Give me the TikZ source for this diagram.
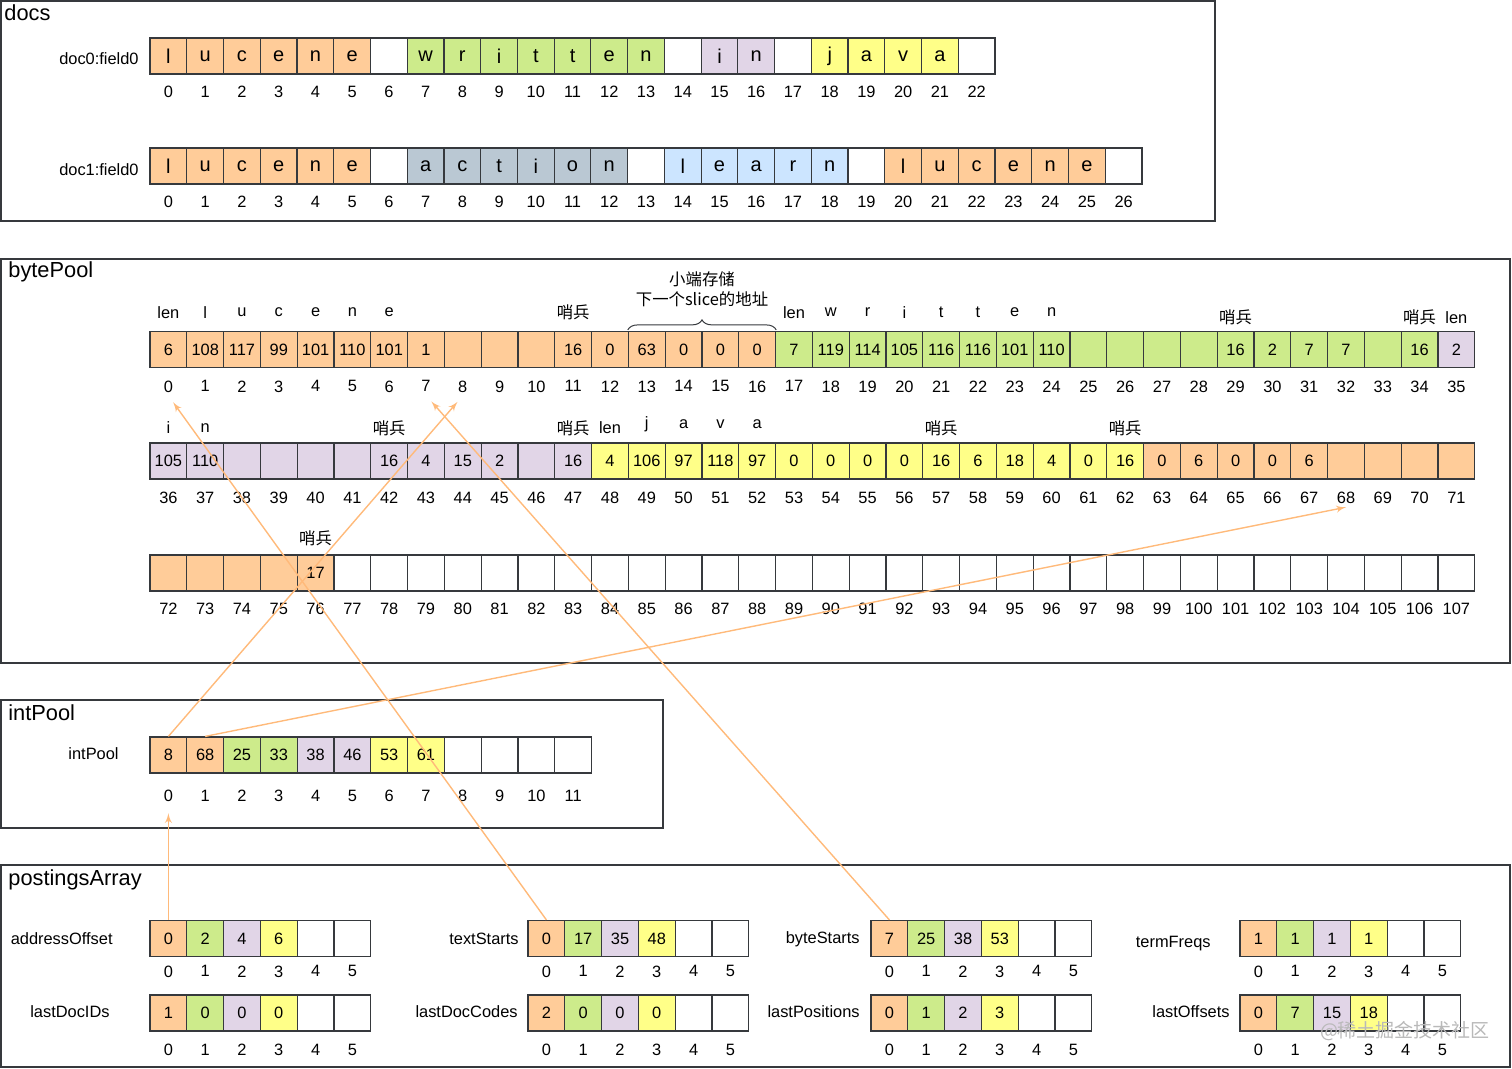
\documentclass[tikz,border=0pt]{standalone}
\usepackage{fontspec}
\setmainfont{Liberation Sans}
\newfontfamily\cjk{Noto Sans CJK SC}
\usepackage{tikz}
\usetikzlibrary{arrows, positioning, decorations.pathreplacing}

\definecolor{cOr}{HTML}{FFCC99}
\definecolor{cGr}{HTML}{CDEB8B}
\definecolor{cPu}{HTML}{E1D5E7}
\definecolor{cYe}{HTML}{FFFF88}
\definecolor{cSl}{HTML}{BAC8D3}
\definecolor{cBl}{HTML}{CCE5FF}
\definecolor{cWh}{HTML}{FFFFFF}
\definecolor{cLine}{HTML}{36393D}
\definecolor{cPtr}{HTML}{FFBA7A}

\newcommand{\cellfont}{\fontsize{8.2}{9.8}\selectfont}
\newcommand{\letterfont}{\fontsize{10}{12}\selectfont}
\newcommand{\titlefont}{\fontsize{10.9}{13}\selectfont}

\begin{document}
\begin{tikzpicture}[x=0.5pt, y=-0.5pt,
  cell/.style={draw=cLine, line width=0.6pt, minimum width=18.4pt, minimum height=18pt, inner sep=0pt, font=\cellfont},
  idx/.style={inner sep=1.5pt, font=\cellfont},
  lab/.style={inner sep=1pt, font=\cellfont},
  zh/.style={inner sep=1pt, font=\cellfont\cjk},
  title/.style={anchor=west, inner sep=0pt, font=\titlefont},
  frame/.style={draw=cLine, line width=0.6pt},
  ptr/.style={draw=cPtr, line width=0.7pt, -latex'},
]

\useasboundingbox (0,0) rectangle (1512,1069);

\draw[frame] (1,1) rectangle (1215,221);
\node[title] (docs) at (4,13) {docs};

\node[lab, anchor=east] (d0lab) at (141,59) {doc0:field0};
\foreach \val/\col [count=\i from 0] in {l/cOr,u/cOr,c/cOr,e/cOr,n/cOr,e/cOr,/cWh,w/cGr,r/cGr,i/cGr,t/cGr,t/cGr,e/cGr,n/cGr,/cWh,i/cPu,n/cPu,/cWh,j/cYe,a/cYe,v/cYe,a/cYe,/cWh} {
  \node[cell, fill=\col, font=\letterfont] (d0-\i) at ({168.4+36.74*\i},56) {\val};
  \node[idx, below=4.1pt of d0-\i] (d0i-\i) {\i};
}

\node[lab, anchor=east] (d1lab) at (141,170) {doc1:field0};
\foreach \val/\col [count=\i from 0] in {l/cOr,u/cOr,c/cOr,e/cOr,n/cOr,e/cOr,/cWh,a/cSl,c/cSl,t/cSl,i/cSl,o/cSl,n/cSl,/cWh,l/cBl,e/cBl,a/cBl,r/cBl,n/cBl,/cWh,l/cOr,u/cOr,c/cOr,e/cOr,n/cOr,e/cOr,/cWh} {
  \node[cell, fill=\col, font=\letterfont] (d1-\i) at ({168.4+36.74*\i},166) {\val};
  \node[idx, below=4.1pt of d1-\i] (d1i-\i) {\i};
}

\draw[frame] (1,259) rectangle (1510,663);
\node[title] (bytepool) at (8,272) {bytePool};

\foreach \val/\col [count=\i from 0] in {6/cOr,108/cOr,117/cOr,99/cOr,101/cOr,110/cOr,101/cOr,1/cOr,/cOr,/cOr,/cOr,16/cOr,0/cOr,63/cOr,0/cOr,0/cOr,0/cOr,7/cGr,119/cGr,114/cGr,105/cGr,116/cGr,116/cGr,101/cGr,110/cGr,/cGr,/cGr,/cGr,/cGr,16/cGr,2/cGr,7/cGr,7/cGr,/cGr,16/cGr,2/cPu} {
  \node[cell, fill=\col] (bp-\i) at ({168.4+36.8*\i},349.5) {\val};
  \node[idx, below=4.6pt of bp-\i] (bpi-\i) {\i};
}
\foreach \val/\col [count=\i from 36] in {105/cPu,110/cPu,/cPu,/cPu,/cPu,/cPu,16/cPu,4/cPu,15/cPu,2/cPu,/cPu,16/cPu,4/cYe,106/cYe,97/cYe,118/cYe,97/cYe,0/cYe,0/cYe,0/cYe,0/cYe,16/cYe,6/cYe,18/cYe,4/cYe,0/cYe,16/cYe,0/cOr,6/cOr,0/cOr,0/cOr,6/cOr,/cOr,/cOr,/cOr,/cOr} {
  \node[cell, fill=\col] (bp-\i) at ({168.4+36.8*(\i-36)},461) {\val};
  \node[idx, below=4.6pt of bp-\i] (bpi-\i) {\i};
}
\foreach \val/\col [count=\i from 72] in {/cOr,/cOr,/cOr,/cOr,17/cOr} {
  \node[cell, fill=\col] (bp-\i) at ({168.4+36.8*(\i-72)},573) {\val};
  \node[idx, below=4.1pt of bp-\i] (bpi-\i) {\i};
}
\foreach \i in {77,...,107} {
  \node[cell, fill=cWh] (bp-\i) at ({168.4+36.8*(\i-72)},573) {};
  \node[idx, below=4.1pt of bp-\i] (bpi-\i) {\i};
}

\foreach \i/\txt/\off in {0/len/37,1/l/37,2/u/37,3/c/37,4/e/37,5/n/37,6/e/37,17/len/37,18/w/37,19/r/37,20/i/37,21/t/37,22/t/37,23/e/37,24/n/37,35/len/32,36/i/33,37/n/33,48/len/33,49/j/37,50/a/37,51/v/37,52/a/37}
  \path (bp-\i) ++(0,-\off) node[lab] (top-\i) {\txt};
\foreach \i/\off in {11/37,29/32,34/32,42/33,47/33,57/33,62/33,76/35}
  \path (bp-\i) ++(0,-\off) node[zh] (snt-\i) {哨兵};

\draw[decorate, decoration={brace, amplitude=5pt, raise=0.5pt}, draw=cLine, line width=0.5pt] (bp-13.north west) -- (bp-16.north east);
\node[zh, align=center] (note) at (702,289) {小端存储\\下一个slice的地址};

\draw[frame] (1,700) rectangle (663,828);
\node[title] (intpool) at (8,713) {intPool};
\node[lab, anchor=east] (iplab) at (121,754) {intPool};
\foreach \val/\col [count=\i from 0] in {8/cOr,68/cOr,25/cGr,33/cGr,38/cPu,46/cPu,53/cYe,61/cYe,/cWh,/cWh,/cWh,/cWh} {
  \node[cell, fill=\col] (ip-\i) at ({168.4+36.8*\i},755) {\val};
  \node[idx, below=6.6pt of ip-\i] (ipi-\i) {\i};
}

\draw[frame] (1,865) rectangle (1510,1067);
\node[title] (postings) at (8,880) {postingsArray};
\foreach \nm/\lbl/\x/\y/\lx/\ly/\gap/\va/\vb/\vc/\vd in {
  ao/addressOffset/150/938.5/115/939/2.6pt/0/2/4/6,
  ld/lastDocIDs/150/1013/112/1012/4.6pt/1/0/0/0,
  ts/textStarts/528/938.5/521/939/2.6pt/0/17/35/48,
  lc/lastDocCodes/528/1013/520/1012/4.6pt/2/0/0/0,
  bs/byteStarts/871/938.5/862/939/2.6pt/7/25/38/53,
  lp/lastPositions/871/1013/862/1012/4.6pt/0/1/2/3,
  tf/termFreqs/1240/938.5/1213/944/2.6pt/1/1/1/1,
  lo/lastOffsets/1240/1013/1232/1012/4.6pt/0/7/15/18} {
  \node[lab, anchor=east] (\nm-lab) at (\lx,\ly) {\lbl};
  \foreach \val/\col [count=\i from 0] in {\va/cOr,\vb/cGr,\vc/cPu,\vd/cYe,/cWh,/cWh} {
    \node[cell, fill=\col] (\nm-\i) at ({\x+18.4+36.8*\i},\y) {\val};
    \node[idx, below=\gap of \nm-\i] (\nm-i\i) {\i};
  }
}

\node[font=\fontsize{9.5}{11}\selectfont\cjk, text=gray!55] (mark) at (1405,1031) {@稀土掘金技术社区};

\draw[ptr, shorten >=4pt] (ao-0.north) -- (ipi-0.south);
\draw[ptr, shorten >=4pt] (ip-0.north) -- (bpi-8.south);
\draw[ptr] (ip-1.north) -- (bpi-68.south);
\draw[ptr, shorten >=4pt] (ts-0.north) -- (bpi-0.south);
\draw[ptr, shorten >=4pt] (bs-0.north) -- (bpi-7.south);

\end{tikzpicture}
\end{document}
